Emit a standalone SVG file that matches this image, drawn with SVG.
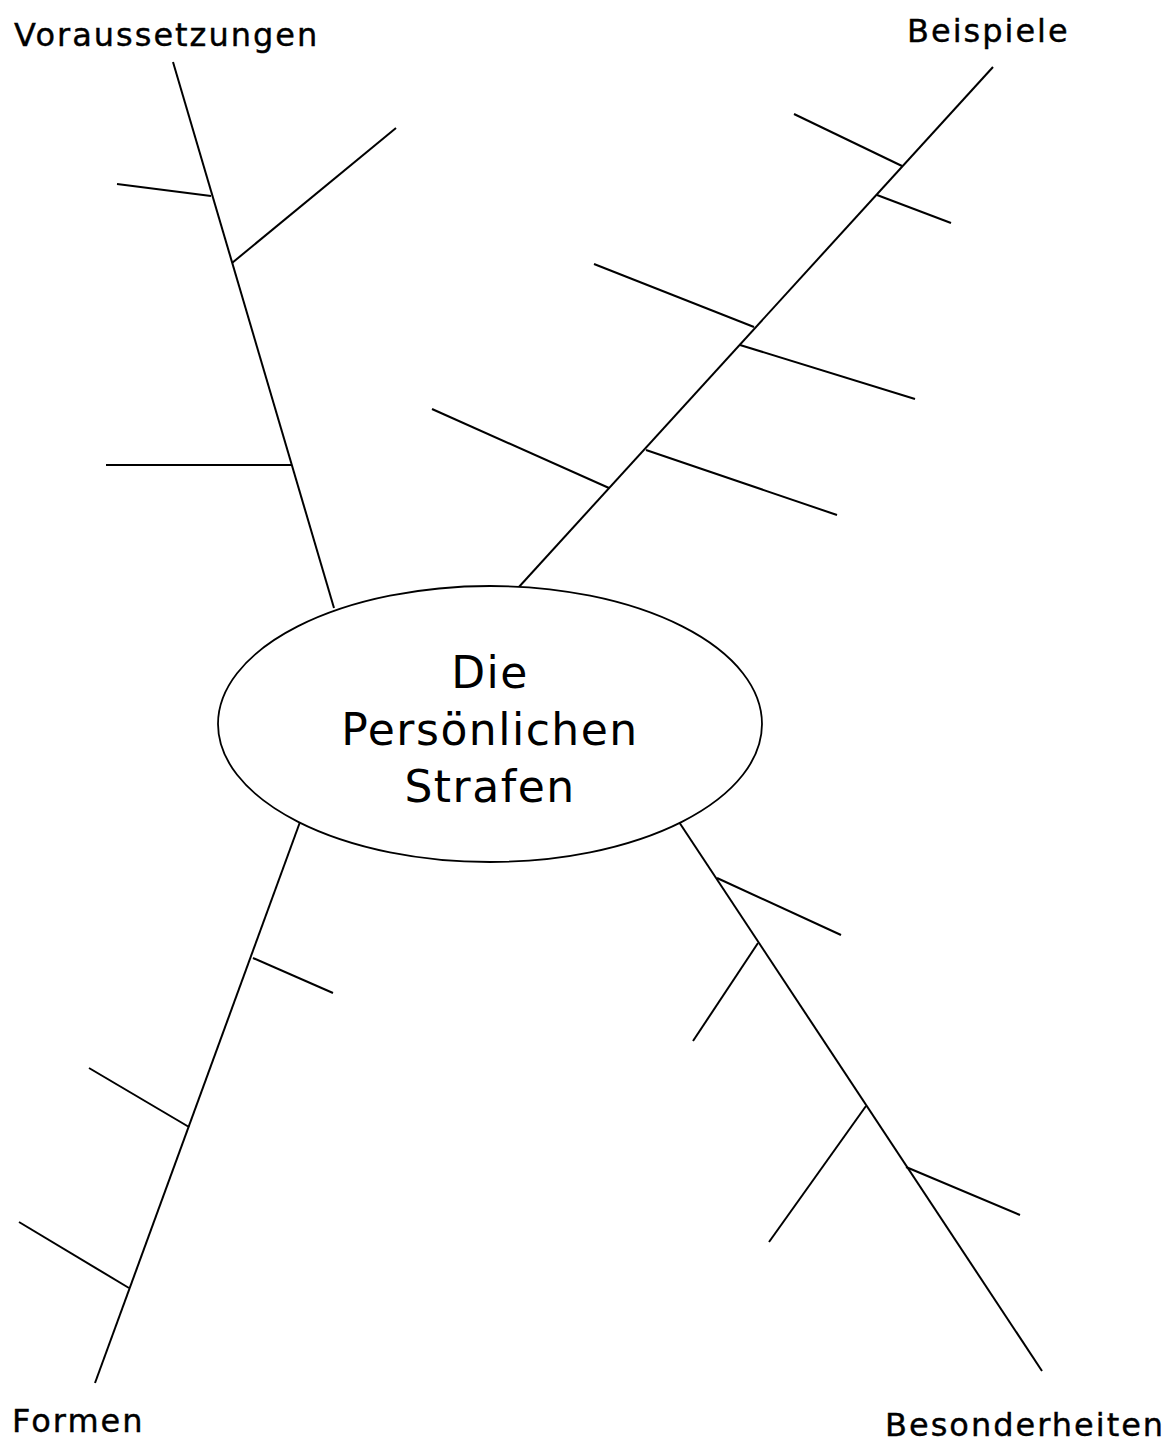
<svg xmlns="http://www.w3.org/2000/svg" width="1168" height="1443" viewBox="0 0 1168 1443">
<style>
.ln{stroke:#000;stroke-width:2;fill:none;stroke-linecap:butt}
.lbl{font-family:"DejaVu Sans","Liberation Sans",sans-serif;font-size:32px;fill:#000;letter-spacing:2px;stroke:#000;stroke-width:0.4}
.ctr{font-family:"DejaVu Sans","Liberation Sans",sans-serif;font-size:44px;fill:#000;text-anchor:middle;letter-spacing:1.5px}
</style>
<rect width="1168" height="1443" fill="#fff"/>
<g id="connectors">
  <g id="branch-voraussetzungen">
    <line class="ln" x1="173" y1="62" x2="334" y2="608"/>
    <line class="ln" x1="117" y1="184" x2="211" y2="196"/>
    <line class="ln" x1="232" y1="263" x2="396" y2="128"/>
    <line class="ln" x1="106" y1="465" x2="291" y2="465"/>
  </g>
  <g id="branch-beispiele">
    <line class="ln" x1="518" y1="588" x2="993" y2="67"/>
    <line class="ln" x1="794" y1="114" x2="902" y2="166"/>
    <line class="ln" x1="877" y1="195" x2="951" y2="223"/>
    <line class="ln" x1="594" y1="264" x2="754" y2="327"/>
    <line class="ln" x1="740" y1="345" x2="915" y2="399"/>
    <line class="ln" x1="432" y1="409" x2="609" y2="488"/>
    <line class="ln" x1="646" y1="450" x2="837" y2="515"/>
  </g>
  <g id="branch-formen">
    <line class="ln" x1="300" y1="822" x2="95" y2="1383"/>
    <line class="ln" x1="253" y1="958" x2="333" y2="993"/>
    <line class="ln" x1="89" y1="1068" x2="189" y2="1127"/>
    <line class="ln" x1="19" y1="1222" x2="129" y2="1288"/>
  </g>
  <g id="branch-besonderheiten">
    <line class="ln" x1="679" y1="822" x2="1042" y2="1371"/>
    <line class="ln" x1="717" y1="878" x2="841" y2="935"/>
    <line class="ln" x1="758" y1="943" x2="693" y2="1041"/>
    <line class="ln" x1="866" y1="1106" x2="769" y2="1242"/>
    <line class="ln" x1="906" y1="1167" x2="1020" y2="1215"/>
  </g>
</g>
<g id="node-center">
  <ellipse cx="490" cy="724" rx="272" ry="138" fill="#fff" stroke="#000" stroke-width="1.8"/>
  <text class="ctr" x="490" y="688">Die</text>
  <text class="ctr" x="490" y="745">Persönlichen</text>
  <text class="ctr" x="490" y="802">Strafen</text>
</g>
<g id="node-voraussetzungen"><text class="lbl" x="14" y="46">Voraussetzungen</text></g>
<g id="node-beispiele"><text class="lbl" x="907" y="42">Beispiele</text></g>
<g id="node-formen"><text class="lbl" x="12" y="1432">Formen</text></g>
<g id="node-besonderheiten"><text class="lbl" x="885" y="1436" letter-spacing="1.7">Besonderheiten</text></g>
</svg>
